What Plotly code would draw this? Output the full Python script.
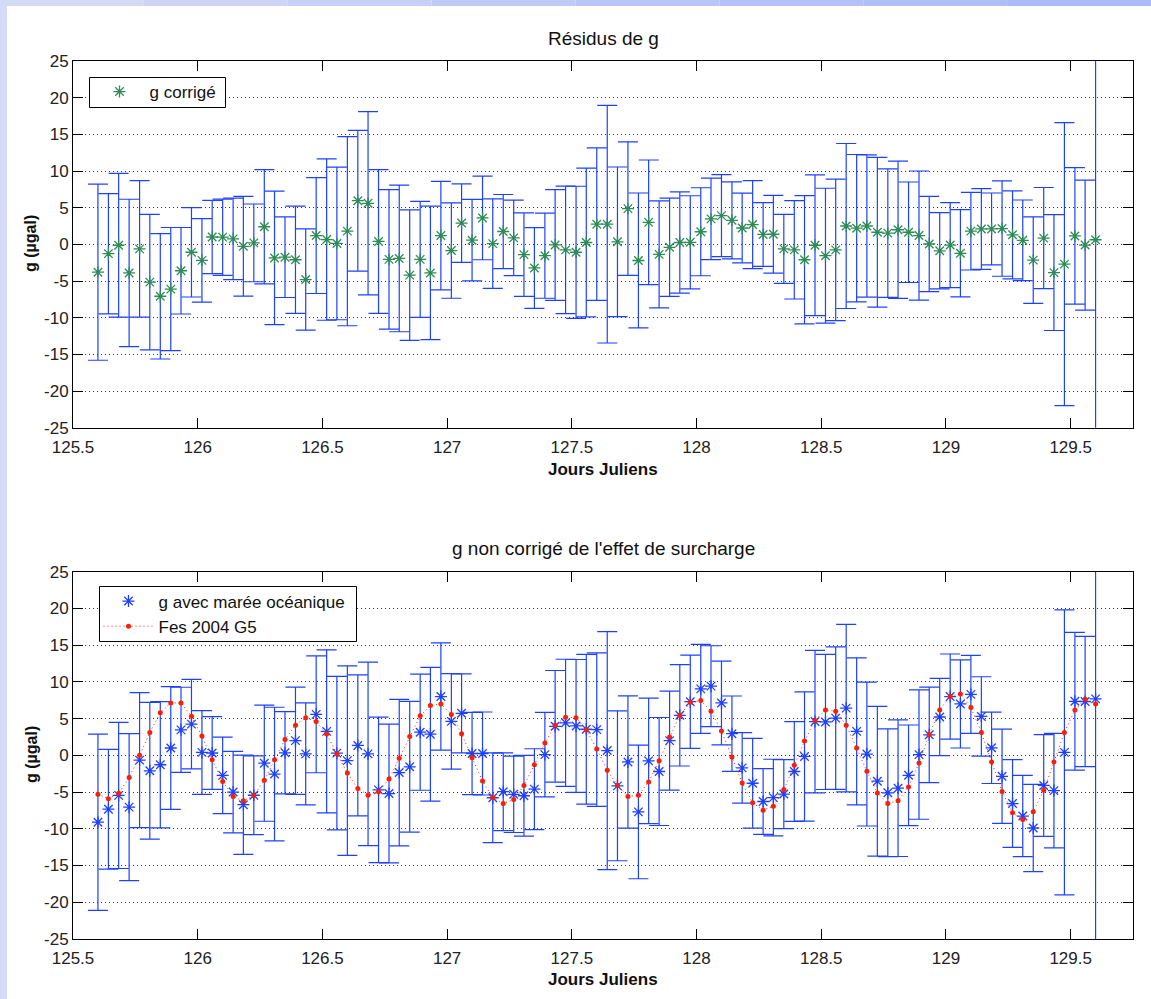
import plotly.graph_objects as go

# ---------------- data ----------------
jours = [
    125.600, 125.642, 125.683, 125.725, 125.767, 125.808, 125.850, 125.892, 125.933, 125.975,
    126.017, 126.058, 126.100, 126.142, 126.183, 126.225, 126.267, 126.308, 126.350, 126.392,
    126.433, 126.475, 126.517, 126.558,
    126.600, 126.642, 126.683, 126.725, 126.767, 126.808, 126.850, 126.892, 126.933, 126.975,
    127.017, 127.058, 127.100, 127.142, 127.183, 127.225, 127.267, 127.308, 127.350, 127.392,
    127.433, 127.475, 127.517, 127.558,
    127.600, 127.642, 127.683, 127.725, 127.767, 127.808, 127.850, 127.892, 127.933, 127.975,
    128.017, 128.058, 128.100, 128.142, 128.183, 128.225, 128.267, 128.308, 128.350, 128.392,
    128.433, 128.475, 128.517, 128.558,
    128.600, 128.642, 128.683, 128.725, 128.767, 128.808, 128.850, 128.892, 128.933, 128.975,
    129.017, 129.058, 129.100, 129.142, 129.183, 129.225, 129.267, 129.308, 129.350, 129.392,
    129.433, 129.475, 129.517, 129.558,
    129.600,
]

g_corrige = [
    -3.8, -1.27, -0.12, -3.9, -0.62, -5.15, -7.08, -6.1, -3.6, -1.08,
    -2.18, 1.0, 0.98, 0.75, -0.27, 0.2, 2.4, -1.85, -1.75, -2.1,
    -4.8, 1.2, 0.65, 0.12, 1.8, 5.95, 5.6, 0.4, -2.05, -1.92,
    -4.2, -2.05, -3.9, 1.2, -0.85, 2.9, 0.57, 3.6, 0.1, 1.75,
    0.88, -1.4, -3.22, -1.55, -0.08, -0.75, -1.08, 0.25, 2.75, 2.75,
    0.35, 4.87, -2.2, 3.0, -1.37, -0.4, 0.25, 0.28, 1.72, 3.47,
    3.92, 3.28, 2.23, 2.7, 1.35, 1.38, -0.62, -0.75, -2.1, -0.12,
    -1.55, -0.75, 2.5, 2.2, 2.5, 1.65, 1.53, 1.99, 1.65, 1.2,
    0.05, -0.88, -0.1, -1.22, 1.8, 2.1, 2.1, 2.15, 1.3, 0.55,
    -2.15, 0.85, -3.85, -2.7, 1.15, -0.1, 0.63,
]
err_corrige = [
    12.0, 8.2, 9.8, 10.05, 9.3, 9.25, 8.55, 8.4, 5.9, 6.1,
    5.7, 5.0, 5.2, 5.55, 6.8, 5.3, 7.8, 9.1, 5.5, 7.3,
    6.9, 7.9, 11.0, 10.4, 12.9, 9.6, 12.5, 9.8, 9.5, 10.0,
    8.9, 7.9, 9.1, 7.4, 6.5, 5.35, 5.55, 5.7, 6.1, 5.05,
    5.15, 5.7, 5.5, 5.8, 7.55, 8.7, 9.0, 10.15, 10.4, 16.2,
    10.2, 9.1, 9.2, 8.5, 7.3, 6.7, 6.9, 6.35, 6.0, 5.55,
    5.6, 5.25, 4.75, 6.0, 4.35, 5.3, 4.7, 6.7, 8.75, 9.6,
    9.2, 9.65, 11.25, 10.05, 9.7, 10.2, 8.75, 9.35, 6.85, 8.8,
    6.5, 5.2, 5.8, 5.95, 5.3, 5.5, 4.9, 6.5, 6.0, 5.5,
    5.9, 6.9, 7.9, 19.3, 9.3, 8.87, 40.0,
]

g_maree = [
    -9.1, -7.33, -5.45, -7.05, -0.65, -2.1, -1.28, 1.0, 3.47, 4.25,
    0.4, 0.32, -2.73, -5.0, -6.72, -5.43, -1.07, -2.55, 0.35, 2.0,
    0.2, 5.58, 3.26, 0.3, -0.72, 1.35, 0.2, -4.7, -5.2, -2.34,
    -1.56, 3.15, 2.88, 8.0, 4.62, 5.72, 0.25, 0.25, -5.77, -4.95,
    -5.3, -5.5, -4.6, 0.1, 3.95, 4.43, 4.0, 3.55, 3.5, 0.65,
    -4.15, -0.9, -7.7, -0.75, -2.2, 2.0, 5.45, 7.3, 9.05, 9.42,
    7.13, 2.95, -1.7, -3.8, -6.28, -5.75, -5.27, -2.2, -0.15, 4.6,
    4.55, 5.07, 6.43, 3.26, 0.18, -3.52, -5.1, -4.47, -2.72, 0.1,
    2.8, 5.22, 8.0, 7.0, 8.3, 5.3, 1.03, -2.85, -6.56, -8.26,
    -9.89, -4.1, -4.8, 0.4, 7.36, 7.33, 7.69,
]
err_maree = [
    12.0, 8.15, 9.95, 10.0, 9.2, 9.3, 8.6, 8.35, 5.8, 6.1,
    5.7, 4.95, 5.2, 5.55, 6.75, 5.35, 7.9, 9.1, 5.6, 7.3,
    6.95, 7.95, 11.1, 10.45, 12.9, 9.6, 12.5, 9.9, 9.45, 9.97,
    8.9, 7.9, 9.1, 7.3, 6.5, 5.38, 5.6, 5.65, 6.1, 5.3,
    5.2, 5.5, 5.5, 5.75, 7.6, 8.65, 9.05, 10.2, 10.45, 16.2,
    10.2, 9.0, 9.1, 8.55, 7.35, 6.74, 6.9, 6.35, 6.05, 5.5,
    5.7, 5.13, 4.8, 6.1, 4.48, 5.22, 4.7, 6.8, 8.8, 9.7,
    9.2, 9.7, 11.4, 10.0, 9.8, 10.2, 8.7, 9.3, 6.85, 8.8,
    6.5, 5.25, 5.8, 6.0, 5.3, 5.4, 4.86, 6.42, 5.97, 5.54,
    5.95, 6.92, 7.8, 19.4, 9.38, 8.86, 40.0,
]
fes2004 = [
    -5.29, -5.92, -5.15, -3.03, 0.0, 3.12, 5.79, 7.14, 7.14, 5.33,
    2.62, -0.59, -3.57, -5.61, -6.19, -5.47, -3.39, -0.59, 2.17, 4.11,
    5.11, 4.61, 2.89, 0.23, -2.4, -4.5, -5.42, -4.97, -3.21, -0.41,
    2.58, 5.38, 6.78, 7.0, 5.56, 2.94, -0.32, -3.48, -5.74, -6.56,
    -6.01, -4.11, -1.27, 1.67, 4.11, 5.2, 5.11, 3.48, 0.86, -2.03,
    -4.07, -5.6, -5.42, -3.62, -0.72, 2.49, 5.42, 7.23, 7.46, 6.01,
    3.3, -0.23, -3.75, -6.46, -7.46, -6.92, -4.66, -1.36, 1.94, 4.75,
    6.19, 6.01, 4.11, 0.99, -2.17, -5.11, -6.56, -6.19, -4.3, -1.04,
    2.85, 6.19, 8.05, 8.36, 6.51, 3.12, -0.9, -4.93, -7.82, -8.73,
    -7.69, -4.75, -0.9, 3.12, 6.19, 7.64, 7.0,
]

x_ticks = [125.5, 126, 126.5, 127, 127.5, 128, 128.5, 129, 129.5]
x_ticktext = ["125.5", "126", "126.5", "127", "127.5", "128", "128.5", "129", "129.5"]
y_ticks = [-25, -20, -15, -10, -5, 0, 5, 10, 15, 20, 25]
y_ticktext = ["-25", "-20", "-15", "-10", "-5", "0", "5", "10", "15", "20", "25"]

# ---------------- styles ----------------
FONT = "Liberation Sans, Arial, Helvetica, sans-serif"
BLUE = "rgb(30,65,255)"
GREEN = "#2e8b57"
RED = "rgb(255,30,0)"

W, H = 1151, 999
ML, MR, MT, MB = 73, 18, 61, 60
PW = W - ML - MR
PH = H - MT - MB


def px_x(p):
    return (p - ML) / PW


def px_y(p):
    return (H - MB - p) / PH


fig = go.Figure()

fig.add_trace(go.Scatter(
    x=jours, y=g_corrige, mode="markers", name="g corrigé",
    marker=dict(symbol="asterisk-open", size=10, color=GREEN,
                line=dict(color=GREEN, width=1.3)),
    error_y=dict(type="data", array=err_corrige, visible=True, color=BLUE,
                 thickness=1.2, width=10),
    xaxis="x", yaxis="y", legend="legend",
))

fig.add_trace(go.Scatter(
    x=jours, y=g_maree, mode="markers", name="g avec marée océanique",
    marker=dict(symbol="asterisk-open", size=10, color=BLUE,
                line=dict(color=BLUE, width=1.3)),
    error_y=dict(type="data", array=err_maree, visible=True, color=BLUE,
                 thickness=1.2, width=10),
    xaxis="x2", yaxis="y2", legend="legend2",
))

fig.add_trace(go.Scatter(
    x=jours, y=fes2004, mode="lines+markers", name="Fes 2004 G5",
    line=dict(color=RED, width=1, dash="1px,3px"),
    marker=dict(symbol="circle", size=5, color=RED),
    xaxis="x2", yaxis="y2", legend="legend2",
))

top_lo = px_y(427.7)
bot_hi = px_y(571.7)

xaxis_common = dict(
    range=[125.5, 129.75], tickmode="array", tickvals=x_ticks, ticktext=x_ticktext,
    showline=True, linecolor="black", linewidth=1, mirror="ticks",
    ticks="inside", ticklen=10, tickcolor="black", tickwidth=1,
    ticklabelstandoff=4,
    showgrid=False, zeroline=False,
    tickfont=dict(family=FONT, size=17, color="#222"),
)
yaxis_common = dict(
    range=[-25, 25], tickmode="array", tickvals=y_ticks, ticktext=y_ticktext,
    showline=True, linecolor="black", linewidth=1, mirror="ticks",
    ticks="inside", ticklen=10, tickcolor="black", tickwidth=1,
    showgrid=True, gridcolor="#333", gridwidth=1, griddash="1px,3px",
    zeroline=False,
    tickfont=dict(family=FONT, size=17, color="#222"),
)

legend_common = dict(
    xanchor="left", yanchor="top",
    bgcolor="rgba(0,0,0,0)", borderwidth=0,
    font=dict(family=FONT, size=17, color="#111"),
    itemsizing="trace", itemwidth=50, tracegroupgap=0,
)

fig.update_layout(
    width=W, height=H,
    margin=dict(l=ML, r=MR, t=MT, b=MB),
    paper_bgcolor="white", plot_bgcolor="white",
    showlegend=True,
    xaxis=dict(domain=[0, 1], anchor="y", **xaxis_common),
    yaxis=dict(domain=[top_lo, 1], anchor="x", **yaxis_common),
    xaxis2=dict(domain=[0, 1], anchor="y2", **xaxis_common),
    yaxis2=dict(domain=[0, bot_hi], anchor="x2", **yaxis_common),
    legend=dict(x=px_x(89.5), y=px_y(74), **legend_common),
    legend2=dict(x=px_x(98.5), y=px_y(583.5), **legend_common),
)

annotations = [
    dict(text="Résidus de g", x=0.5, y=px_y(39), xanchor="center", yanchor="middle",
         font=dict(family=FONT, size=19, color="#111")),
    dict(text="<b>Jours Juliens</b>", x=0.5, y=px_y(469), xanchor="center", yanchor="middle",
         font=dict(family=FONT, size=17, color="#111")),
    dict(text="<b>g (µgal)</b>", x=px_x(31), y=px_y(244), xanchor="center", yanchor="middle",
         textangle=-90, font=dict(family=FONT, size=16, color="#111")),
    dict(text="g non corrigé de l'effet de surcharge", x=0.5, y=px_y(548),
         xanchor="center", yanchor="middle", font=dict(family=FONT, size=19, color="#111")),
    dict(text="<b>Jours Juliens</b>", x=0.5, y=px_y(980), xanchor="center", yanchor="middle",
         font=dict(family=FONT, size=17, color="#111")),
    dict(text="<b>g (µgal)</b>", x=px_x(31), y=px_y(755), xanchor="center", yanchor="middle",
         textangle=-90, font=dict(family=FONT, size=16, color="#111")),
]
for a in annotations:
    a.update(xref="paper", yref="paper", showarrow=False)
fig.update_layout(annotations=annotations)

shapes = []
# legend frames (opaque white boxes with black border)
for (lx0, ly0, lx1, ly1) in [(89.5, 77.5, 225.5, 107.5), (99.5, 586.5, 356.5, 641.5)]:
    shapes.append(dict(type="rect", xref="paper", yref="paper",
                       x0=px_x(lx0), x1=px_x(lx1), y0=px_y(ly1), y1=px_y(ly0),
                       fillcolor="white", line=dict(color="black", width=1), layer="above"))

# decorative page frame (lavender bands at top and left)
band_cols = ["#d3daf6", "#ccd5f7", "#c6d0f7", "#c0cbf8", "#bac6f8", "#b5c2f9", "#b0bef9", "#acbbfa"]
nseg = len(band_cols)
for k, c in enumerate(band_cols):
    x0p = k * W / nseg
    x1p = (k + 1) * W / nseg
    shapes.append(dict(type="rect", xref="paper", yref="paper",
                       x0=px_x(x0p), x1=px_x(x1p), y0=px_y(6), y1=px_y(0),
                       fillcolor=c, line=dict(width=0), layer="above"))
shapes.append(dict(type="rect", xref="paper", yref="paper",
                   x0=px_x(0), x1=px_x(7), y0=px_y(H), y1=px_y(6),
                   fillcolor="#d4daf7", line=dict(width=0), layer="above"))
fig.update_layout(shapes=shapes)

fig.write_html("out.html", config={"displayModeBar": False},
               post_script="document.body.style.margin='0px';")
